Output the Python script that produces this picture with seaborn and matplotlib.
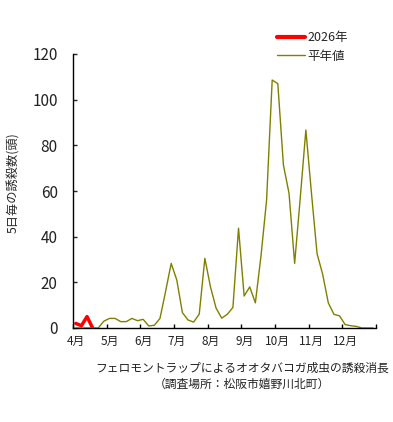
import numpy as np
import pandas as pd
import matplotlib
matplotlib.use("Agg")
import matplotlib.pyplot as plt
import seaborn as sns

# 5-day periods, Apr-Dec (6 per month)
months = ["4月", "5月", "6月", "7月", "8月", "9月", "10月", "11月", "12月"]
avg_values = [
    0, 0, 0, 0, 0, 3, 4.2, 4.2, 2.8, 2.8, 4.2, 3.2, 3.8, 0.9, 1.2, 4.2, 16, 28.3,
    21, 6.7, 3.5, 2.6, 6.1, 30.5, 18, 8.7, 4.3, 6, 9, 43.7, 14, 18, 11, 31.5,
    56, 108.6, 107, 71.4, 59, 28.3, 57, 86.7, 59, 32.5, 23.5, 11, 6, 5.3,
    1.5, 1, 0.7, 0, 0, 0,
]
cur_values = [2, 1, 5, 0]
series_names = ["2026年", "平年値"]

sns.set_style("ticks")
plt.rcParams["font.family"] = ["Noto Sans CJK JP", "DejaVu Sans"]

avg_df = pd.DataFrame({"period": np.arange(len(avg_values)) + 0.5, "count": avg_values})
cur_df = pd.DataFrame({"period": np.arange(len(cur_values)) + 0.5, "count": cur_values})

fig = plt.figure(figsize=(3.93, 4.22), dpi=100)
ax = fig.add_axes([73 / 393, 1 - 328 / 422, (376 - 73) / 393, (328 - 54) / 422])

sns.lineplot(data=cur_df, x="period", y="count", ax=ax, color="#ff0000",
             linewidth=2.5, label=series_names[0])
sns.lineplot(data=avg_df, x="period", y="count", ax=ax, color="#808000",
             linewidth=1.0, label=series_names[1])

ax.set_xlim(0, 54)
ax.set_ylim(0, 120)
ax.set_yticks(range(0, 121, 20))
ax.set_xticks(range(0, 55, 6))
ax.set_xticklabels([])
ax.set_xticks(np.arange(len(months)) * 6 + 0.5, minor=True)
ax.set_xticklabels(months, minor=True)
ax.tick_params(axis="x", which="major", direction="in", length=3, width=1, color="black")
ax.tick_params(axis="x", which="minor", length=0, pad=5, labelsize=8.5, labelcolor="#222222")
ax.tick_params(axis="y", direction="in", length=3, width=1, pad=11,
               labelsize=11, labelcolor="#222222")
ax.set_xlabel("")
ax.set_ylabel("5日毎の誘殺数(頭)", fontsize=8.8, labelpad=2)
ax.yaxis.set_label_coords(-0.175, 0.53)
for side in ["top", "right"]:
    ax.spines[side].set_visible(False)
for side in ["left", "bottom"]:
    ax.spines[side].set_color("black")
    ax.spines[side].set_linewidth(1)

leg = ax.legend(loc="upper left", bbox_to_anchor=(277 / 393, 1 - 31 / 422),
                bbox_transform=fig.transFigure, frameon=False, fontsize=9,
                borderpad=0, borderaxespad=0, handlelength=2.2,
                handletextpad=0.2, labelspacing=0.45)
leg.get_lines()[0].set_linewidth(3)

fig.text(242 / 393, 1 - 368 / 422, "フェロモントラップによるオオタバコガ成虫の誘殺消長",
         ha="center", va="center", fontsize=8.5, color="#222222")
fig.text(242 / 393, 1 - 384 / 422, "（調査場所：松阪市嬉野川北町）",
         ha="center", va="center", fontsize=8.5, color="#222222")

fig.savefig("out.png", dpi=100)
